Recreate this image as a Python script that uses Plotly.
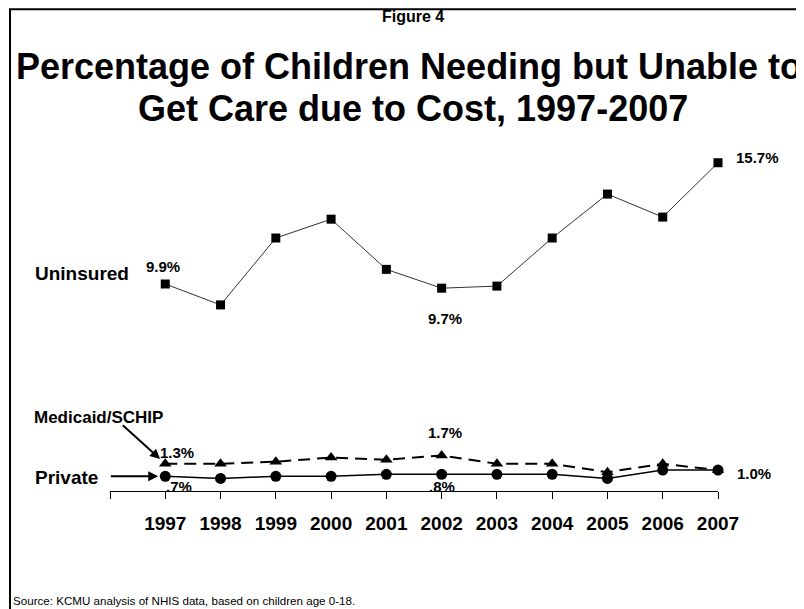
import plotly.graph_objects as go

years = [1997, 1998, 1999, 2000, 2001, 2002, 2003, 2004, 2005, 2006, 2007]
uninsured = [9.9, 8.9, 12.1, 13.0, 10.6, 9.7, 9.8, 12.1, 14.2, 13.1, 15.7]
medicaid = [1.3, 1.3, 1.4, 1.6, 1.5, 1.7, 1.3, 1.3, 0.9, 1.3, 1.0]
private = [0.7, 0.6, 0.7, 0.7, 0.8, 0.8, 0.8, 0.8, 0.6, 1.0, 1.0]

tick_vals = [1996] + years
tick_text = [""] + [str(y) for y in years]

FONT = "Liberation Sans, Arial, sans-serif"

fig = go.Figure()
fig.add_trace(go.Scatter(x=years, y=uninsured, mode="lines+markers",
                         line=dict(color="#333333", width=1),
                         marker=dict(symbol="square", size=9, color="black"),
                         cliponaxis=False, showlegend=False))
fig.add_trace(go.Scatter(x=years, y=medicaid, mode="lines+markers",
                         line=dict(color="black", width=2, dash="12px,7px"),
                         marker=dict(symbol="triangle-up", size=11, color="black"),
                         cliponaxis=False, showlegend=False))
fig.add_trace(go.Scatter(x=years, y=private, mode="lines+markers",
                         line=dict(color="black", width=1.5),
                         marker=dict(symbol="circle", size=11, color="black"),
                         cliponaxis=False, showlegend=False))

# value labels: (series values, index, text, xshift, yshift)
value_labels = [
    (uninsured, 0, "9.9%", -2, 18),
    (uninsured, 5, "9.7%", 3, -30),
    (uninsured, 10, "15.7%", 39, 5),
    (medicaid, 0, "1.3%", 12, 11),
    (medicaid, 5, "1.7%", 3, 23),
    (private, 0, ".7%", 14, -10),
    (private, 5, ".8%", 0, -12),
    (private, 10, "1.0%", 36, -3),
]
annotations = []
for series, i, txt, xs, ys in value_labels:
    annotations.append(dict(x=years[i], y=series[i], xref="x", yref="y", text="<b>%s</b>" % txt,
                            showarrow=False, xshift=xs, yshift=ys,
                            font=dict(family=FONT, size=15, color="black")))

# page pixel -> paper coords (plot area spans page x 110..718, page y 100..491)
def paper_x(px):
    return (px - 110) / 608.0

def paper_y(py):
    return (491 - py) / 391.0

series_labels = [("Uninsured", 33, 273, 19), ("Medicaid/SCHIP", 32, 417, 17), ("Private", 33, 477, 19)]
for txt, px, py, sz in series_labels:
    annotations.append(dict(x=paper_x(px), y=paper_y(py), xref="paper", yref="paper",
                            text="<b>%s</b>" % txt, showarrow=False, xanchor="left", yanchor="middle",
                            font=dict(family=FONT, size=sz, color="black")))

# arrows
annotations.append(dict(x=years[0], y=private[0], xref="x", yref="y", text="", showarrow=True,
                        ax=-56, ay=0, arrowhead=2, arrowsize=1, arrowwidth=2, arrowcolor="black",
                        standoff=7))
annotations.append(dict(x=years[0], y=medicaid[0], xref="x", yref="y", text="", showarrow=True,
                        ax=-44, ay=-40, arrowhead=2, arrowsize=1, arrowwidth=2, arrowcolor="black",
                        standoff=7))

# titles
annotations.append(dict(x=paper_x(413), y=paper_y(16), xref="paper", yref="paper",
                        text="<b>Figure 4</b>", showarrow=False, yanchor="middle",
                        font=dict(family=FONT, size=16, color="black")))
annotations.append(dict(x=paper_x(409), y=paper_y(66), xref="paper", yref="paper",
                        text="<b>Percentage of Children Needing but Unable to</b>", showarrow=False,
                        yanchor="middle", font=dict(family=FONT, size=36, color="black")))
annotations.append(dict(x=paper_x(413), y=paper_y(108), xref="paper", yref="paper",
                        text="<b>Get Care due to Cost, 1997-2007</b>", showarrow=False,
                        yanchor="middle", font=dict(family=FONT, size=36, color="black")))
annotations.append(dict(x=paper_x(11), y=paper_y(600), xref="paper", yref="paper",
                        text="Source: KCMU analysis of NHIS data, based on children age 0-18.",
                        showarrow=False, xanchor="left", yanchor="middle",
                        font=dict(family=FONT, size=11.6, color="black")))

# figure is offset 8px by the page margin, so it is 8px smaller on each axis
fig.update_layout(
    width=796, height=601,
    margin=dict(l=102, r=86, t=92, b=118),
    paper_bgcolor="white", plot_bgcolor="white",
    annotations=annotations,
    shapes=[dict(type="rect", xref="paper", yref="paper",
                 x0=paper_x(10), x1=paper_x(830), y0=paper_y(640), y1=paper_y(9.2),
                 line=dict(color="black", width=2), fillcolor="rgba(0,0,0,0)", layer="below")],
    xaxis=dict(range=[1996, 2007], tickvals=tick_vals, ticktext=tick_text,
               showline=True, linecolor="black", linewidth=1, ticks="outside", ticklen=7,
               tickcolor="black", tickwidth=1, showgrid=False, zeroline=False,
               ticklabelstandoff=8,
               tickfont=dict(family=FONT, size=19, color="black", weight="bold")),
    yaxis=dict(range=[0, 18.7], visible=False, showgrid=False, zeroline=False),
)

fig.write_html("out.html")
